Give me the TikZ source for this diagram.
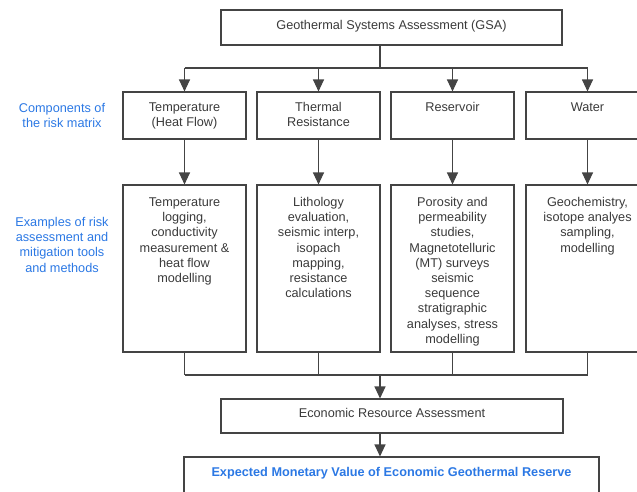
\documentclass[tikz,border=0pt]{standalone}
\usepackage{fontspec}
\setmainfont{Liberation Sans}
\usepackage{xcolor}
\usetikzlibrary{arrows.meta}

\definecolor{linegray}{HTML}{444444}
\definecolor{textgray}{HTML}{3A3A3A}
\definecolor{labelblue}{HTML}{2B78E4}

\begin{document}
\begin{tikzpicture}[
        x=1pt, y=-1pt,
        line width=1.1pt,
        font=\fontsize{12.7}{15.2}\selectfont,
        box/.style={draw=linegray, rectangle, inner sep=0pt},
        txt/.style={anchor=north, inner sep=0pt, align=center, text=textgray},
        side/.style={anchor=north, inner sep=0pt, align=center, text=labelblue},
        arr/.style={draw=linegray, -{Triangle[width=11pt,length=12pt]}},
        link/.style={draw=linegray}]
        \useasboundingbox (0,0) rectangle (637,491);
        \clip (0,0) rectangle (637,491);

        % NODES
        % top box
        \node[box, minimum width=341pt, minimum height=35pt] (gsa) at (391.5,27.5) {};
        \node[txt] (gsaT) at (391.5,17.9) {\strut Geothermal Systems Assessment (GSA)};
        % side captions
        \node[side] (compCap) at (62,100.9) {\strut Components of\\the risk matrix};
        \node[side] (exCap) at (62,215.4) {\strut Examples of risk\\assessment and\\mitigation tools\\and methods};
        % components of the risk matrix
        \node[box, minimum width=123pt, minimum height=47pt] (temp) at (184.5,115.5) {};
        \node[txt] (tempT) at (184.5,100.4) {\strut Temperature\\(Heat Flow)};
        \node[box, minimum width=123pt, minimum height=47pt] (therm) at (318.5,115.5) {};
        \node[txt] (thermT) at (318.5,100.4) {\strut Thermal\\Resistance};
        \node[box, minimum width=123pt, minimum height=47pt] (res) at (452.5,115.5) {};
        \node[txt] (resT) at (452.5,100.4) {\strut Reservoir};
        \node[box, minimum width=123pt, minimum height=47pt] (water) at (587.5,115.5) {};
        \node[txt] (waterT) at (587.5,100.4) {\strut Water};
        % tools and methods
        \node[box, minimum width=123pt, minimum height=167pt] (tempM) at (184.5,268.5) {};
        \node[txt] (tempMT) at (184.5,195.4) {\strut Temperature\\logging,\\conductivity\\measurement \&\\heat flow\\modelling};
        \node[box, minimum width=123pt, minimum height=167pt] (thermM) at (318.5,268.5) {};
        \node[txt] (thermMT) at (318.5,195.4) {\strut Lithology\\evaluation,\\seismic interp,\\isopach\\mapping,\\resistance\\calculations};
        \node[box, minimum width=123pt, minimum height=167pt] (resM) at (452.5,268.5) {};
        \node[txt] (resMT) at (452.5,195.4) {\strut Porosity and\\permeability\\studies,\\Magnetotelluric\\(MT) surveys\\seismic\\sequence\\stratigraphic\\analyses, stress\\modelling};
        \node[box, minimum width=123pt, minimum height=167pt] (waterM) at (587.5,268.5) {};
        \node[txt] (waterMT) at (587.5,195.4) {\strut Geochemistry,\\isotope analyes\\sampling,\\modelling};
        % economic assessment
        \node[box, minimum width=342pt, minimum height=34pt] (era) at (392,416) {};
        \node[txt] (eraT) at (392,405.9) {\strut Economic Resource Assessment};
        % expected monetary value
        \node[box, minimum width=415pt, minimum height=60pt] (emv) at (391.5,487) {};
        \node[txt, text=labelblue, font=\fontsize{12.7}{15.2}\selectfont\bfseries] (emvT) at (391.5,465.4) {\strut Expected Monetary Value of Economic Geothermal Reserve};
        % junctions
        \coordinate (split) at (380,68);
        \coordinate (merge) at (380,375);

        % ARROWS
        \draw[link] (gsa.south -| split) -- (split);
        \draw[link] (temp.north |- split) -- (water.north |- split);
        \draw[arr] (temp.north |- split) -- (temp.north);
        \draw[arr] (therm.north |- split) -- (therm.north);
        \draw[arr] (res.north |- split) -- (res.north);
        \draw[arr] (water.north |- split) -- (water.north);
        \draw[arr] (temp.south) -- (tempM.north);
        \draw[arr] (therm.south) -- (thermM.north);
        \draw[arr] (res.south) -- (resM.north);
        \draw[arr] (water.south) -- (waterM.north);
        \draw[link] (tempM.south) -- (tempM.south |- merge);
        \draw[link] (thermM.south) -- (thermM.south |- merge);
        \draw[link] (resM.south) -- (resM.south |- merge);
        \draw[link] (waterM.south) -- (waterM.south |- merge);
        \draw[link] (tempM.south |- merge) -- (waterM.south |- merge);
        \draw[arr] (merge) -- (era.north -| merge);
        \draw[arr] (era.south -| merge) -- (emv.north -| merge);
    \end{tikzpicture}
\end{document}
